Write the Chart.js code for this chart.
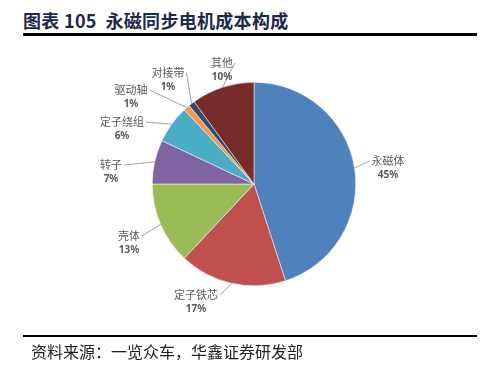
<!DOCTYPE html>
<html>
<head>
<meta charset="utf-8">
<script src="https://cdn.jsdelivr.net/npm/chart.js@4.4.1/dist/chart.umd.min.js"></script>
<style>
  html, body { margin: 0; padding: 0; background: #fff; }
  #wrap { position: relative; width: 492px; height: 374px; overflow: hidden; }
  #title { position: absolute; left: 23px; top: 7px; font: bold 18px "Noto Sans CJK SC", sans-serif; color: #1c2a4a; white-space: nowrap; letter-spacing: 0.3px; }
  .rule { position: absolute; left: 23px; width: 454px; background: #000; }
  #source { position: absolute; left: 31px; top: 339px; font: 16px "Noto Sans CJK SC", sans-serif; color: #222; white-space: nowrap; }
  #pie { position: absolute; left: 0; top: 0; }
</style>
</head>
<body>
<div id="wrap">
  <div id="title">图表 105&nbsp; 永磁同步电机成本构成</div>
  <div class="rule" style="top:33px;height:3px;"></div>
  <canvas id="pie" width="492" height="374"></canvas>
  <div class="rule" style="top:335px;height:2px;"></div>
  <div id="source">资料来源：一览众车，华鑫证券研发部</div>
</div>
<script>
// cost share of a PMSM, clockwise from 12 o'clock
const categories = ['永磁体', '定子铁芯', '壳体', '转子', '定子绕组', '驱动轴', '对接带', '其他'];
const shares = [45, 17, 13, 7, 6, 1, 1, 10];

const sliceColors = ['#4F81BD', '#C0504D', '#9BBB59', '#8064A2', '#4BACC6', '#F79646', '#2C4D75', '#772C2A'];

// label centre offsets from the pie centre (manually placed, like the source)
const labelOffsets = [[134, -23], [-58, 111], [-125, 52], [-143, -19], [-132, -62], [-123, -94], [-86, -111], [-32, -121]];

const pieLabels = {
    id: 'pieLabels',
    afterDatasetsDraw(chart) {
        const ctx = chart.ctx;
        const arcs = chart.getDatasetMeta(0).data;
        ctx.save();
        arcs.forEach((arc, i) => {
            const mid = (arc.startAngle + arc.endAngle) / 2;
            const ax = arc.x + Math.cos(mid) * arc.outerRadius;
            const ay = arc.y + Math.sin(mid) * arc.outerRadius;
            const lx = arc.x + labelOffsets[i][0];
            const ly = arc.y + labelOffsets[i][1];

            ctx.font = '11px "Noto Sans CJK SC", sans-serif';
            const w = ctx.measureText(categories[i]).width;
            const ex = lx < ax ? lx + w / 2 + 2 : lx - w / 2 - 2;
            const dist = Math.hypot(ax - ex, ay - ly);
            if (dist > 12) {
                ctx.strokeStyle = '#8c8c8c';
                ctx.lineWidth = 0.8;
                ctx.beginPath();
                ctx.moveTo(ex, ly);
                ctx.lineTo(ax, ay);
                ctx.stroke();
            }

            ctx.fillStyle = '#595959';
            ctx.textAlign = 'center';
            ctx.textBaseline = 'middle';
            ctx.fillText(categories[i], lx, ly);
            ctx.font = 'bold 10px "Noto Sans", sans-serif';
            ctx.fillText(shares[i] + '%', lx, ly + 14);
        });
        ctx.restore();
    }
};

const ctx = document.getElementById('pie').getContext('2d');
const pieChart = new Chart(ctx, {
    type: 'pie',
    data: {
        labels: categories,
        datasets: [{
            data: shares,
            backgroundColor: sliceColors,
            borderColor: '#ffffff',
            borderWidth: 0.5
        }]
    },
    options: {
        responsive: false,
        animation: false,
        layout: { padding: { left: 152, right: 136, top: 82, bottom: 88 } },
        plugins: {
            legend: { display: false },
            tooltip: { enabled: false }
        }
    },
    plugins: [pieLabels]
});
</script>
</body>
</html>
